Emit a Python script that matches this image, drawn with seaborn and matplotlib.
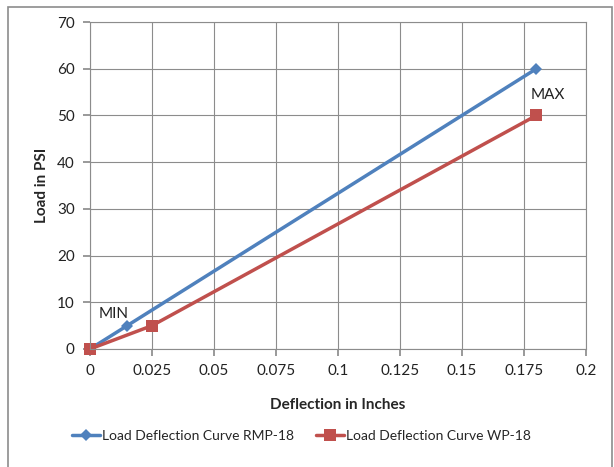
import pandas as pd
import numpy as np
import matplotlib.pyplot as plt
import seaborn as sns
from matplotlib.patches import Rectangle
from matplotlib.ticker import FuncFormatter

sns.set_theme(style="white")
plt.rcParams['font.family'] = ['Lato', 'DejaVu Sans']

# Data
deflection_rmp = [0, 0.015, 0.18]
load_rmp = [0, 5, 60]
deflection_wp = [0, 0.025, 0.18]
load_wp = [0, 5, 50]
series_names = ['Load Deflection Curve RMP-18', 'Load Deflection Curve WP-18']
x_ticks = [0, 0.025, 0.05, 0.075, 0.1, 0.125, 0.15, 0.175, 0.2]
y_ticks = [0, 10, 20, 30, 40, 50, 60, 70]

blue = '#4F81BD'
red = '#C0504D'
grid_color = '#8C8C8C'

df_rmp = pd.DataFrame({'Deflection': deflection_rmp, 'Load': load_rmp})
df_wp = pd.DataFrame({'Deflection': deflection_wp, 'Load': load_wp})

fig = plt.figure(figsize=(6.14, 4.67), dpi=100)
ax = fig.add_axes([90 / 614, 1 - 349 / 467, (586 - 90) / 614, (349 - 22) / 467])

sns.lineplot(data=df_rmp, x='Deflection', y='Load', ax=ax, color=blue, linewidth=2.5,
             marker='D', markersize=6, markeredgewidth=0, label=series_names[0],
             sort=False, clip_on=False)
sns.lineplot(data=df_wp, x='Deflection', y='Load', ax=ax, color=red, linewidth=2.5,
             marker='s', markersize=9, markeredgewidth=0, label=series_names[1],
             sort=False, clip_on=False)

ax.set_xlim(0, 0.2)
ax.set_ylim(0, 70)
ax.set_xticks(x_ticks)
ax.set_yticks(y_ticks)
ax.xaxis.set_major_formatter(FuncFormatter(lambda v, p: f'{v:g}'))
ax.grid(True, color=grid_color, linewidth=0.8)
ax.set_axisbelow(True)
for side in ['top', 'right', 'left', 'bottom']:
    ax.spines[side].set_color(grid_color)
    ax.spines[side].set_linewidth(0.8)
ax.tick_params(axis='both', which='major', length=5, color=grid_color, direction='out',
               labelsize=11, labelcolor='#222222', pad=6, left=True, bottom=True)

ax.set_xlabel('Deflection in Inches', fontsize=11, fontweight='bold', labelpad=14)
ax.set_ylabel('Load in PSI', fontsize=11, fontweight='bold', labelpad=6)

ax.text(0.0035, 6.6, 'MIN', fontsize=11, color='#222222')
ax.text(0.1775, 53.6, 'MAX', fontsize=11, color='#222222')

leg = ax.legend(loc='center', bbox_to_anchor=(0.426, (349 - 436) / 327), ncol=2,
                frameon=False, fontsize=10, handlelength=2.0, handletextpad=0.15,
                columnspacing=1.6)

# outer chart border
fig.patches.append(Rectangle((8 / 614, -0.05), (612 - 8) / 614, 1 - 7 / 467 + 0.05,
                             transform=fig.transFigure, fill=False, edgecolor='#8C8C8C',
                             linewidth=1.2, clip_on=False))

fig.savefig('out.png', dpi=100)
